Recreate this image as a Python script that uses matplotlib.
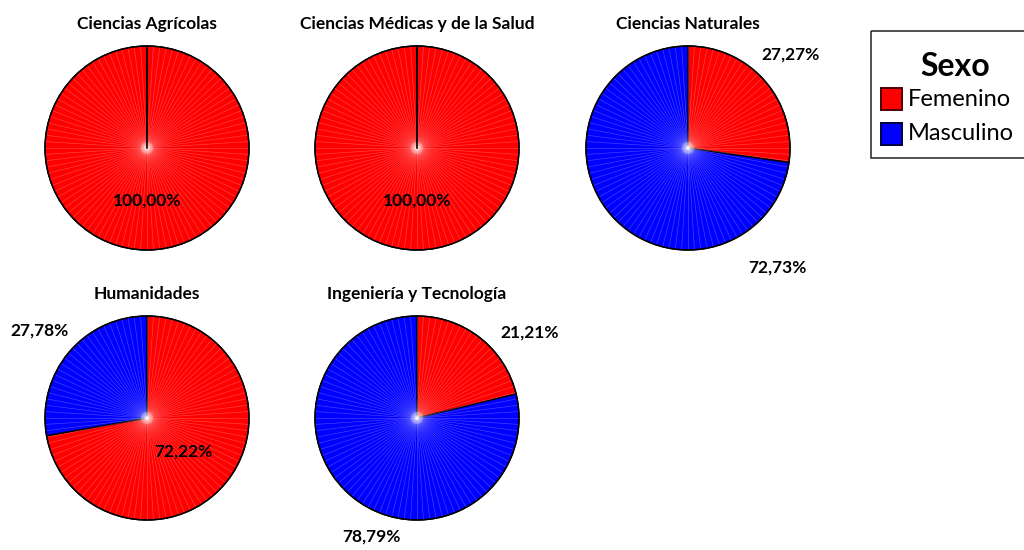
import matplotlib
matplotlib.use("Agg")
import matplotlib.pyplot as plt
import numpy as np

plt.rcParams['font.family'] = ['Lato', 'DejaVu Sans']

categories = ["Ciencias Agrícolas", "Ciencias Médicas y de la Salud", "Ciencias Naturales",
              "Humanidades", "Ingeniería y Tecnología"]
femenino = [100.00, 100.00, 27.27, 72.22, 21.21]
masculino = [0.00, 0.00, 72.73, 27.78, 78.79]
series_names = ["Femenino", "Masculino"]
colors = ["#FF0000", "#0000FF"]
legend_title = "Sexo"

# layout (pixel centres) and label offsets (in pie radii)
centers = [(147, 148), (417, 148), (688, 148), (147, 418), (417, 418)]
label_pos = [
    [(0.0, -0.51), None],
    [(0.0, -0.51), None],
    [(1.00, 0.92), (0.88, -1.17)],
    [(0.36, -0.33), (-1.05, 0.86)],
    [(1.10, 0.84), (-0.45, -1.16)],
]

W, H = 1024, 550
fig = plt.figure(figsize=(W / 100, H / 100), dpi=100)
R = 102
L = 1.6
size = R * L * 2

def fmt(v):
    return f"{v:.2f}".replace(".", ",") + "%"

for i, cat in enumerate(categories):
    cx, cy = centers[i]
    ax = fig.add_axes([(cx - size / 2) / W, 1 - (cy + size / 2) / H, size / W, size / H])
    vals = [femenino[i], masculino[i]]
    wedges, _ = ax.pie(vals, colors=colors, startangle=90, counterclock=False,
                       radius=1.0, wedgeprops=dict(edgecolor="black", linewidth=1.0,
                                                   joinstyle="round"))
    # radial texture spokes
    for a in np.linspace(0, 2 * np.pi, 100, endpoint=False):
        ax.plot([0.0, np.cos(a)], [0.0, np.sin(a)],
                color="white", lw=0.5, alpha=0.25, zorder=3)
    ax.add_patch(plt.Circle((0, 0), 0.06, facecolor="white", alpha=0.25, lw=0, zorder=3.5))
    ax.add_patch(plt.Circle((0, 0), 1.0, fill=False, edgecolor="black", lw=1.0, zorder=4))
    if vals[1] == 0:
        ax.plot([0, 0], [0, 1], color="black", lw=1.2, zorder=5)
    ax.set_xlim(-L, L)
    ax.set_ylim(-L, L)
    ax.set_aspect("equal")
    ax.axis("off")
    for j, v in enumerate(vals):
        pos = label_pos[i][j]
        if pos is not None and v > 0:
            ax.text(pos[0], pos[1], fmt(v), ha="center", va="center",
                    fontsize=12.5, fontweight="bold", zorder=6)
    ax.text(0, 1.22, cat, ha="center", va="center", fontsize=12.5, fontweight="bold")

# Legend box (pixel coordinates overlay)
lax = fig.add_axes([0, 0, 1, 1])
lax.set_xlim(0, W)
lax.set_ylim(H, 0)
lax.axis("off")
lax.add_patch(plt.Rectangle((870.5, 30.5), 200, 127, fill=False, edgecolor="#333333", lw=1.2))
lax.text(955, 67, legend_title, ha="center", va="center", fontsize=23, fontweight="bold")
for k, name in enumerate(series_names):
    y = 99 + k * 35
    lax.add_patch(plt.Rectangle((881, y - 11), 21, 22, facecolor=colors[k],
                                edgecolor="#500000" if k == 0 else "#000040", lw=1.4))
    lax.text(908, y, name, ha="left", va="center", fontsize=17)

fig.savefig("out.png", dpi=100)
